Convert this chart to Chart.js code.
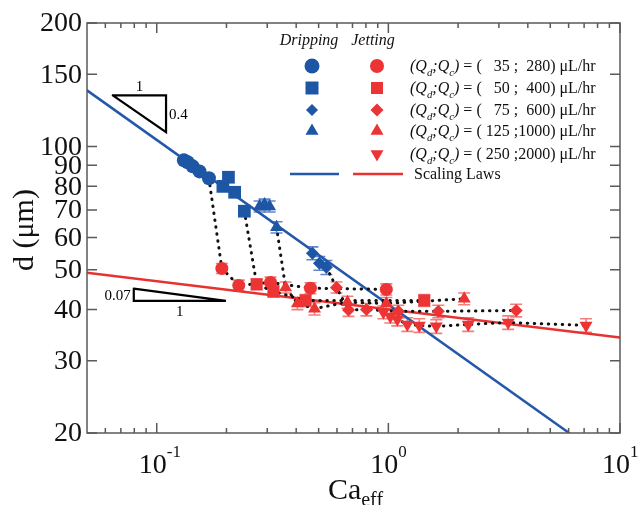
<!DOCTYPE html>
<html>
<head>
<meta charset="utf-8">
<script src="https://cdn.jsdelivr.net/npm/chart.js@4.4.1/dist/chart.umd.min.js"></script>
<style>
  html, body { margin: 0; padding: 0; background: #fff; }
  #wrap { width: 641px; height: 505px; }
</style>
</head>
<body>
<div id="wrap"><canvas id="myChart" width="641" height="505"></canvas></div>
<script>
// Dripping regime (blue), x = Ca_eff, d in um
var dripCircX = [0.131, 0.136, 0.143, 0.153, 0.168];
var dripCircD = [92.5, 91.5, 89.4, 86.9, 83.6];
var dripSqX = [0.193, 0.204, 0.217, 0.239];
var dripSqD = [79.9, 84.1, 77.3, 69.5];
var dripDiaX = [0.470, 0.504, 0.540];
var dripDiaD = [54.9, 51.9, 50.7];
var dripDiaErr = [2.0, 2.0, 2.0];
var dripTriX = [0.278, 0.292, 0.307, 0.329];
var dripTriD = [71.4, 72.2, 71.4, 63.5];
var dripTriErr = [2.2, 2.2, 2.2, 2.0];

// Jetting regime (red)
var jetCircX = [0.191, 0.226, 0.310, 0.461, 0.980];
var jetCircD = [50.4, 45.8, 46.6, 45.1, 44.8];
var jetCircErr = [1.4, 1.4, 1.4, 1.4, 1.4];
var jetSqX = [0.270, 0.319, 0.439, 1.429];
var jetSqD = [46.1, 44.3, 42.1, 42.1];
var jetSqErr = [1.4, 1.4, 1.4, 1.4];
var jetDiaX = [0.597, 0.673, 0.804, 1.104, 1.643, 3.563];
var jetDiaD = [45.3, 39.9, 40.0, 39.6, 39.6, 39.8];
var jetDiaErr = [1.4, 1.4, 1.4, 1.4, 1.4, 1.4];
var jetTriX = [0.360, 0.405, 0.480, 0.666, 0.980, 2.126];
var jetTriD = [45.3, 41.4, 40.2, 41.7, 41.4, 42.5];
var jetTriErr = [1.4, 1.4, 1.4, 1.4, 1.4, 1.4];
var jetInvX = [0.952, 1.020, 1.093, 1.207, 1.360, 1.610, 2.212, 3.290, 7.136];
var jetInvD = [39.4, 38.5, 37.9, 36.8, 36.6, 36.4, 36.8, 37.2, 36.6];
var jetInvErr = [1.4, 1.4, 1.4, 1.4, 1.4, 1.4, 1.4, 1.4, 1.4];

// scaling laws (end points)
var dripLawX = [0.05, 6.03];
var dripLawD = [137, 20];
var jetLawX = [0.05, 10];
var jetLawD = [49.2, 34.2];

// slope triangles
var slope1X = [0.0646, 0.1097, 0.1097, 0.0646];
var slope1D = [133.2, 133.2, 108.4, 133.2];
var slope2X = [0.0796, 0.0796, 0.1989, 0.0796];
var slope2D = [45.0, 42.0, 42.0, 45.0];

// axis ticks
var yTicks = [20, 30, 40, 50, 60, 70, 80, 90, 100, 150, 200];
var xMajor = [0.1, 1, 10];
var xMajorExp = ["-1", "0", "1"];
var xMinor = [0.06, 0.07, 0.08, 0.09, 0.2, 0.3, 0.4, 0.5, 0.6, 0.7, 0.8, 0.9, 2, 3, 4, 5, 6, 7, 8, 9];

// legend
var legendQd = ["35", "50", "75", "125", "250"];
var legendQc = ["280", "400", "600", "1000", "2000"];

var BLUE = "rgb(30, 86, 166)";
var RED = "rgb(236, 52, 52)";
var RED_ERR = "rgba(240, 120, 120, 0.95)";
var BLUE_ERR = "rgba(90, 130, 200, 0.95)";
var SERIF = "'Liberation Serif', 'DejaVu Serif', serif";

function pts(xs, ys) {
    var out = [];
    for (var i = 0; i < xs.length; i++) {
        out.push({ x: xs[i], y: ys[i] });
    }
    return out;
}

// dotted path: last dripping point, then the jetting points
function path(dx, dy, jx, jy) {
    var out = [];
    if (dx) out.push({ x: dx[dx.length - 1], y: dy[dy.length - 1] });
    return out.concat(pts(jx, jy));
}

function markers(xs, ys, style, color, r, errs, errColor, rot) {
    return {
        data: pts(xs, ys),
        showLine: false,
        pointStyle: style,
        pointRotation: rot || 0,
        pointRadius: r,
        pointHoverRadius: r,
        pointBackgroundColor: color,
        pointBorderColor: color,
        pointBorderWidth: 0,
        errs: errs || null,
        errColor: errColor,
        order: 0
    };
}

function line(data, color, width, dash, order) {
    return {
        data: data,
        showLine: true,
        borderColor: color,
        borderWidth: width,
        borderDash: dash || [],
        borderCapStyle: "round",
        pointRadius: 0,
        pointHoverRadius: 0,
        fill: false,
        order: order
    };
}

var DOT = [0.5, 6.5];

var datasets = [
    line(pts(dripLawX, dripLawD), "rgb(35, 88, 170)", 2.5, null, 3),
    line(pts(jetLawX, jetLawD), "rgb(232, 50, 50)", 2.5, null, 3),
    line(pts(slope1X, slope1D), "#000", 2.2, null, 3),
    line(pts(slope2X, slope2D), "#000", 2.2, null, 3),
    line(path(dripCircX, dripCircD, jetCircX, jetCircD), "#111", 3, DOT, 2),
    line(path(dripSqX, dripSqD, jetSqX, jetSqD), "#111", 3, DOT, 2),
    line(path(dripDiaX, dripDiaD, jetDiaX, jetDiaD), "#111", 3, DOT, 2),
    line(path(dripTriX, dripTriD, jetTriX, jetTriD), "#111", 3, DOT, 2),
    line(path(null, null, jetInvX, jetInvD), "#111", 3, DOT, 2),
    markers(dripCircX, dripCircD, "circle", BLUE, 7),
    markers(dripSqX, dripSqD, "rect", BLUE, 9),
    markers(dripDiaX, dripDiaD, "rectRot", BLUE, 6.5, dripDiaErr, BLUE_ERR),
    markers(dripTriX, dripTriD, "triangle", BLUE, 7.5, dripTriErr, BLUE_ERR),
    markers(jetCircX, jetCircD, "circle", RED, 6.5, jetCircErr, RED_ERR),
    markers(jetSqX, jetSqD, "rect", RED, 8.5, jetSqErr, RED_ERR),
    markers(jetDiaX, jetDiaD, "rectRot", RED, 6.5, jetDiaErr, RED_ERR),
    markers(jetTriX, jetTriD, "triangle", RED, 7.5, jetTriErr, RED_ERR),
    markers(jetInvX, jetInvD, "triangle", RED, 7.5, jetInvErr, RED_ERR, 180)
];

function drawMarker(ctx, style, x, y, r, color) {
    ctx.fillStyle = color;
    ctx.beginPath();
    if (style == "circle") {
        ctx.arc(x, y, r, 0, Math.PI * 2);
    } else if (style == "rect") {
        ctx.rect(x - r, y - r, 2 * r, 2 * r);
    } else if (style == "diamond") {
        ctx.moveTo(x, y - r); ctx.lineTo(x + r, y); ctx.lineTo(x, y + r); ctx.lineTo(x - r, y);
    } else if (style == "tri") {
        ctx.moveTo(x, y - r); ctx.lineTo(x + r * 0.87, y + r * 0.5); ctx.lineTo(x - r * 0.87, y + r * 0.5);
    } else if (style == "inv") {
        ctx.moveTo(x, y + r); ctx.lineTo(x + r * 0.87, y - r * 0.5); ctx.lineTo(x - r * 0.87, y - r * 0.5);
    }
    ctx.closePath();
    ctx.fill();
}

// draws text pieces: n = normal, i = italic, si = italic subscript
function drawRich(ctx, parts, x, y, size) {
    for (var i = 0; i < parts.length; i++) {
        var t = parts[i][0], k = parts[i][1];
        var s = size, dy = 0, st = "";
        if (k == "i") st = "italic ";
        if (k == "si") { st = "italic "; s = size * 0.68; dy = size * 0.3; }
        ctx.font = st + s + "px " + SERIF;
        ctx.fillText(t, x, y + dy);
        x += ctx.measureText(t).width;
    }
    return x;
}

var errorBars = {
    id: "errorBars",
    beforeDatasetsDraw: function(chart) {
        var ctx = chart.ctx, yScale = chart.scales.y;
        ctx.save();
        ctx.lineWidth = 1.6;
        chart.data.datasets.forEach(function(ds, i) {
            if (!ds.errs) return;
            var meta = chart.getDatasetMeta(i);
            ctx.strokeStyle = ds.errColor;
            for (var j = 0; j < ds.data.length; j++) {
                var px = meta.data[j].x;
                var top = yScale.getPixelForValue(ds.data[j].y + ds.errs[j]);
                var bot = yScale.getPixelForValue(ds.data[j].y - ds.errs[j]);
                ctx.beginPath();
                ctx.moveTo(px, top); ctx.lineTo(px, bot);
                ctx.moveTo(px - 6, top); ctx.lineTo(px + 6, top);
                ctx.moveTo(px - 6, bot); ctx.lineTo(px + 6, bot);
                ctx.stroke();
            }
        });
        ctx.restore();
    }
};

var axesAndText = {
    id: "axesAndText",
    afterDraw: function(chart) {
        var ctx = chart.ctx, a = chart.chartArea;
        var xs = chart.scales.x, ys = chart.scales.y;
        ctx.save();

        // frame and ticks
        ctx.strokeStyle = "#5a5a5a";
        ctx.lineWidth = 1.5;
        ctx.strokeRect(a.left, a.top, a.right - a.left, a.bottom - a.top);
        ctx.beginPath();
        yTicks.forEach(function(v) {
            var py = ys.getPixelForValue(v);
            ctx.moveTo(a.left, py); ctx.lineTo(a.left + 10, py);
            ctx.moveTo(a.right, py); ctx.lineTo(a.right - 10, py);
        });
        xMajor.forEach(function(v) {
            var px = xs.getPixelForValue(v);
            ctx.moveTo(px, a.bottom); ctx.lineTo(px, a.bottom - 10);
            ctx.moveTo(px, a.top); ctx.lineTo(px, a.top + 10);
        });
        xMinor.forEach(function(v) {
            var px = xs.getPixelForValue(v);
            ctx.moveTo(px, a.bottom); ctx.lineTo(px, a.bottom - 5);
            ctx.moveTo(px, a.top); ctx.lineTo(px, a.top + 5);
        });
        ctx.stroke();

        // tick labels
        ctx.fillStyle = "#111";
        ctx.font = "28px " + SERIF;
        ctx.textAlign = "right";
        ctx.textBaseline = "middle";
        yTicks.forEach(function(v) {
            ctx.fillText(String(v), a.left - 5, ys.getPixelForValue(v) + 1);
        });
        ctx.textBaseline = "alphabetic";
        xMajor.forEach(function(v, i) {
            var px = xs.getPixelForValue(v);
            ctx.font = "28px " + SERIF;
            ctx.textAlign = "right";
            ctx.fillText("10", px + 10, a.bottom + 40);
            ctx.font = "17px " + SERIF;
            ctx.textAlign = "left";
            ctx.fillText(xMajorExp[i], px + 10, a.bottom + 24);
        });

        // axis titles
        ctx.textAlign = "left";
        var cx = drawRich(ctx, [["Ca", "n"]], 0, -100, 30);
        var caW = cx;
        ctx.font = "20px " + SERIF;
        var totalW = caW + ctx.measureText("eff").width;
        var sx = (a.left + a.right) / 2 - totalW / 2 + 2;
        ctx.font = "30px " + SERIF;
        ctx.fillText("Ca", sx, 499);
        ctx.font = "20px " + SERIF;
        ctx.fillText("eff", sx + caW, 506);

        ctx.save();
        ctx.translate(33, (a.top + a.bottom) / 2 + 2);
        ctx.rotate(-Math.PI / 2);
        ctx.textAlign = "center";
        ctx.font = "30px " + SERIF;
        ctx.fillText("d (\u03bcm)", 0, 0);
        ctx.restore();

        // slope labels
        ctx.font = "15px " + SERIF;
        ctx.fillStyle = "#000";
        ctx.textAlign = "center";
        ctx.fillText("1", (xs.getPixelForValue(slope1X[0]) + xs.getPixelForValue(slope1X[1])) / 2, ys.getPixelForValue(slope1D[0]) - 4);
        ctx.textAlign = "left";
        ctx.fillText("0.4", xs.getPixelForValue(slope1X[1]) + 3, (ys.getPixelForValue(slope1D[1]) + ys.getPixelForValue(slope1D[2])) / 2 + 5);
        ctx.textAlign = "right";
        ctx.fillText("0.07", xs.getPixelForValue(slope2X[0]) - 3, (ys.getPixelForValue(slope2D[0]) + ys.getPixelForValue(slope2D[1])) / 2 + 5);
        ctx.textAlign = "center";
        ctx.fillText("1", (xs.getPixelForValue(slope2X[1]) + xs.getPixelForValue(slope2X[2])) / 2, ys.getPixelForValue(slope2D[1]) + 15);

        // legend
        ctx.fillStyle = "#111";
        ctx.font = "italic 16px " + SERIF;
        ctx.textAlign = "center";
        ctx.fillText("Dripping", 309, 45);
        ctx.fillText("Jetting", 373, 45);
        var rows = [66, 88, 110, 131, 154];
        var blueStyles = [["circle", 7.5], ["rect", 6.5], ["diamond", 6], ["tri", 7.5]];
        var redStyles = [["circle", 7], ["rect", 6], ["diamond", 6.5], ["tri", 7.5], ["inv", 7.5]];
        ctx.textAlign = "left";
        for (var r = 0; r < rows.length; r++) {
            if (blueStyles[r]) drawMarker(ctx, blueStyles[r][0], 312, rows[r], blueStyles[r][1], BLUE);
            drawMarker(ctx, redStyles[r][0], 377, rows[r], redStyles[r][1], RED);
            ctx.fillStyle = "#111";
            var txt = " = ( " + legendQd[r].padStart(3, "\u2007") + " ;" + legendQc[r].padStart(4, "\u2007") + ") \u03bcL/hr";
            drawRich(ctx, [["(Q", "i"], ["d", "si"], [";Q", "i"], ["c", "si"], [")", "i"], [txt, "n"]], 410, rows[r] + 5, 16);
        }
        ctx.lineWidth = 2.5;
        ctx.strokeStyle = "rgb(35, 88, 170)";
        ctx.beginPath(); ctx.moveTo(290, 174); ctx.lineTo(339, 174); ctx.stroke();
        ctx.strokeStyle = "rgb(232, 50, 50)";
        ctx.beginPath(); ctx.moveTo(353, 174); ctx.lineTo(403, 174); ctx.stroke();
        ctx.fillStyle = "#111";
        ctx.font = "16px " + SERIF;
        ctx.fillText("Scaling Laws", 414, 179);

        ctx.restore();
    }
};

var myChart = new Chart(document.getElementById("myChart"), {
    type: "scatter",
    data: { datasets: datasets },
    options: {
        responsive: false,
        animation: false,
        events: [],
        layout: { padding: { left: 87, right: 21, top: 23, bottom: 72 } },
        plugins: {
            legend: { display: false },
            tooltip: { enabled: false }
        },
        scales: {
            x: { type: "logarithmic", min: 0.05, max: 10, display: false },
            y: { type: "logarithmic", min: 20, max: 200, display: false }
        }
    },
    plugins: [errorBars, axesAndText]
});
</script>
</body>
</html>
